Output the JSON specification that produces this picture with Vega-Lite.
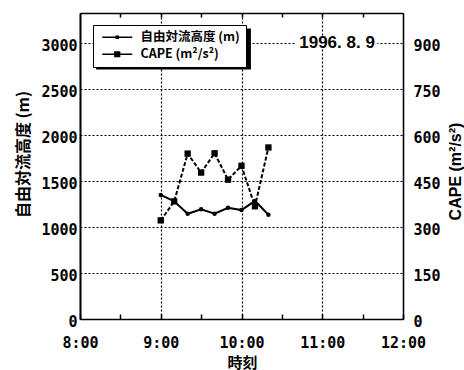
{
  "$schema": "https://vega.github.io/schema/vega-lite/v6.json",
  "width": 323,
  "height": 306,
  "autosize": {"type": "none"},
  "padding": {"left": 80, "top": 13, "right": 61, "bottom": 51},
  "background": "white",
  "config": {
    "view": {"stroke": null},
    "axis": {
      "labelFont": "DejaVu Sans Mono",
      "labelFontWeight": "bold",
      "labelFontSize": 15,
      "labelColor": "black",
      "labelFlush": false,
      "labelOverlap": false,
      "titleColor": "black",
      "titleFontWeight": "bold",
      "domainColor": "black",
      "tickColor": "black",
      "gridColor": "black",
      "gridDash": [2, 2],
      "gridWidth": 1.2,
      "gridOpacity": 1
    }
  },
  "datasets": {
    "obs": [
      {"t": "1996-08-09T09:00", "h": 1350, "cape": 322},
      {"t": "1996-08-09T09:10", "h": 1280, "cape": 384},
      {"t": "1996-08-09T09:20", "h": 1145, "cape": 540},
      {"t": "1996-08-09T09:30", "h": 1195, "cape": 478},
      {"t": "1996-08-09T09:40", "h": 1145, "cape": 541},
      {"t": "1996-08-09T09:50", "h": 1210, "cape": 455},
      {"t": "1996-08-09T10:00", "h": 1185, "cape": 500},
      {"t": "1996-08-09T10:10", "h": 1285, "cape": 368},
      {"t": "1996-08-09T10:20", "h": 1135, "cape": 560}
    ]
  },
  "layer": [
    {
      "layer": [
        {
          "data": {"name": "obs"},
          "mark": {"type": "line", "color": "black", "strokeWidth": 2},
          "encoding": {
            "x": {
              "field": "t",
              "type": "temporal",
              "scale": {"domain": [{"year": 1996, "month": 8, "date": 9, "hours": 8}, {"year": 1996, "month": 8, "date": 9, "hours": 12}]},
              "axis": {
                "orient": "bottom",
                "values": [
                  {"year": 1996, "month": 8, "date": 9, "hours": 8, "minutes": 0},
                  {"year": 1996, "month": 8, "date": 9, "hours": 8, "minutes": 30},
                  {"year": 1996, "month": 8, "date": 9, "hours": 9, "minutes": 0},
                  {"year": 1996, "month": 8, "date": 9, "hours": 9, "minutes": 30},
                  {"year": 1996, "month": 8, "date": 9, "hours": 10, "minutes": 0},
                  {"year": 1996, "month": 8, "date": 9, "hours": 10, "minutes": 30},
                  {"year": 1996, "month": 8, "date": 9, "hours": 11, "minutes": 0},
                  {"year": 1996, "month": 8, "date": 9, "hours": 11, "minutes": 30},
                  {"year": 1996, "month": 8, "date": 9, "hours": 12, "minutes": 0}
                ],
                "format": "%-H:%M",
                "labelExpr": "minutes(datum.value) == 0 ? datum.label : ''",
                "grid": true,
                "gridOpacity": {"condition": {"test": "minutes(datum.value) == 0", "value": 1}, "value": 0},
                "tickSize": -5,
                "tickWidth": 1.5,
                "labelPadding": 21,
                "labelBaseline": "top",
                "domainWidth": 1.5,
                "title": "時刻",
                "titleFont": "Noto Sans CJK JP",
                "titleFontSize": 15,
                "titleX": 162,
                "titleY": 43,
                "titleBaseline": "middle",
                "titleAlign": "center"
              }
            },
            "y": {
              "field": "h",
              "type": "quantitative",
              "scale": {"domain": [0, 3330], "nice": false},
              "axis": {
                "orient": "left",
                "values": [0, 500, 1000, 1500, 2000, 2500, 3000],
                "format": "d",
                "grid": true,
                "ticks": false,
                "labelPadding": 3,
                "labelOffset": 2,
                "domainWidth": 2,
                "title": "自由対流高度 (m)",
                "titleFont": "Noto Sans CJK JP",
                "titleFontSize": 16,
                "titleAngle": -90,
                "titleX": -57,
                "titleY": 141,
                "titleBaseline": "middle",
                "titleAlign": "center"
              }
            }
          }
        },
        {
          "data": {"name": "obs"},
          "mark": {"type": "point", "shape": "circle", "filled": true, "color": "black", "size": 20, "opacity": 1},
          "encoding": {
            "x": {"field": "t", "type": "temporal"},
            "y": {"field": "h", "type": "quantitative"}
          }
        },
        {
          "data": {"values": [{"label": "1996. 8. 9"}]},
          "mark": {"type": "rect", "color": "white"},
          "encoding": {
            "x": {"datum": {"year": 1996, "month": 8, "date": 9, "hours": 10, "minutes": 40}, "type": "temporal"},
            "x2": {"datum": {"year": 1996, "month": 8, "date": 9, "hours": 11, "minutes": 41}},
            "y": {"datum": 2940, "type": "quantitative"},
            "y2": {"datum": 3060}
          }
        },
        {
          "data": {"values": [{"label": "1996. 8. 9"}]},
          "mark": {"type": "text", "font": "Liberation Sans", "fontSize": 17, "fontWeight": "bold", "color": "black", "baseline": "middle", "align": "center"},
          "encoding": {
            "text": {"field": "label"},
            "x": {"datum": {"year": 1996, "month": 8, "date": 9, "hours": 11, "minutes": 11}, "type": "temporal"},
            "y": {"datum": 3000, "type": "quantitative"}
          }
        },
        {
          "data": {"values": [{"part": "legend shadow"}]},
          "mark": {"type": "rect", "color": "black"},
          "encoding": {
            "x": {"datum": {"year": 1996, "month": 8, "date": 9, "hours": 8, "minutes": 12}, "type": "temporal"},
            "x2": {"datum": {"year": 1996, "month": 8, "date": 9, "hours": 10, "minutes": 7}},
            "y": {"datum": 3160, "type": "quantitative"},
            "y2": {"datum": 2715}
          }
        },
        {
          "data": {"values": [{"series": "自由対流高度 (m)"}, {"series": "CAPE (m²/s²)"}]},
          "mark": {"type": "point", "opacity": 0, "filled": true, "color": "black"},
          "encoding": {
            "shape": {
              "field": "series",
              "type": "nominal",
              "scale": {
                "domain": ["自由対流高度 (m)", "CAPE (m²/s²)"],
                "range": [
                  "M-3,-0.17H3V0.17H-3ZM-0.35,-0.35H0.35V0.35H-0.35Z",
                  "M-3,-0.17H3V0.17H-3ZM-0.62,-0.62H0.62V0.62H-0.62Z"
                ]
              },
              "legend": {
                "title": null,
                "orient": "none",
                "legendX": 13,
                "legendY": 12,
                "padding": 6,
                "cornerRadius": 0,
                "strokeColor": "black",
                "fillColor": "white",
                "symbolOffset": 12,
                "labelOffset": 17,
                "rowPadding": 4,
                "symbolFillColor": "black",
                "symbolOpacity": 1,
                "labelFont": "Noto Sans CJK JP",
                "labelFontSize": 12.5,
                "labelFontWeight": "bold",
                "labelColor": "black",
                "encode": {
                  "legend": {"update": {"strokeWidth": {"value": 2}}},
                  "symbols": {"update": {"opacity": {"value": 1}, "fill": {"value": "black"}}}
                }
              }
            },
            "size": {"value": 121}
          }
        }
      ]
    },
    {
      "data": {"name": "obs"},
      "layer": [
        {
          "mark": {"type": "line", "color": "black", "strokeWidth": 2, "strokeDash": [4, 2]},
          "encoding": {
            "x": {
              "field": "t",
              "type": "temporal",
              "axis": {
                "orient": "top",
                "values": [
                  {"year": 1996, "month": 8, "date": 9, "hours": 8, "minutes": 30},
                  {"year": 1996, "month": 8, "date": 9, "hours": 9, "minutes": 0},
                  {"year": 1996, "month": 8, "date": 9, "hours": 9, "minutes": 30},
                  {"year": 1996, "month": 8, "date": 9, "hours": 10, "minutes": 0},
                  {"year": 1996, "month": 8, "date": 9, "hours": 10, "minutes": 30},
                  {"year": 1996, "month": 8, "date": 9, "hours": 11, "minutes": 0},
                  {"year": 1996, "month": 8, "date": 9, "hours": 11, "minutes": 30}
                ],
                "labels": false,
                "grid": false,
                "tickSize": -4,
                "tickWidth": 1.5,
                "domainWidth": 1.5,
                "title": null
              }
            },
            "y": {
              "field": "cape",
              "type": "quantitative",
              "scale": {"domain": [0, 999], "nice": false},
              "axis": {
                "orient": "right",
                "values": [0, 150, 300, 450, 600, 750, 900],
                "grid": false,
                "ticks": false,
                "labelPadding": 10,
                "labelOffset": 2,
                "domainWidth": 1.5,
                "title": "CAPE (m²/s²)",
                "titleFont": "Liberation Sans",
                "titleFontSize": 16,
                "titleAngle": 270,
                "titleX": 52,
                "titleY": 158,
                "titleBaseline": "middle",
                "titleAlign": "center"
              }
            }
          }
        },
        {
          "mark": {"type": "point", "shape": "square", "filled": true, "color": "black", "size": 40, "opacity": 1},
          "encoding": {
            "x": {"field": "t", "type": "temporal"},
            "y": {"field": "cape", "type": "quantitative"}
          }
        }
      ]
    }
  ],
  "resolve": {"scale": {"y": "independent"}}
}
